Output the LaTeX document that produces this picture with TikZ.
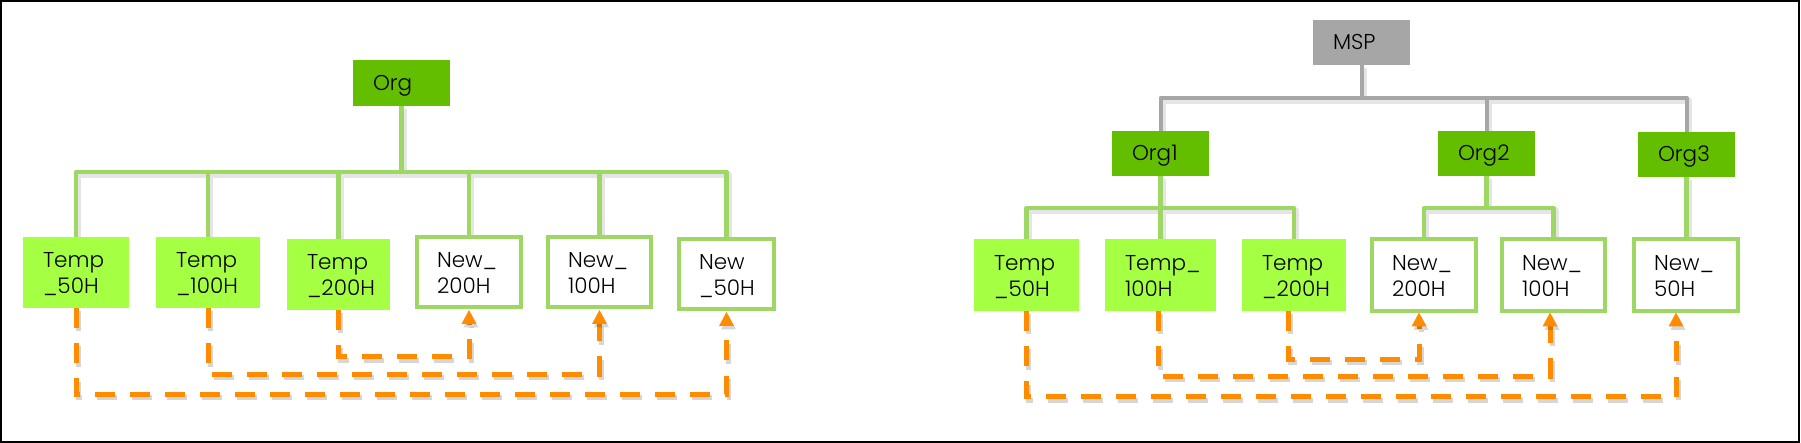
\documentclass[tikz,border=0pt]{standalone}
\usepackage{fontspec}
\setmainfont{Poppins}[UprightFont={* Light}]
\usetikzlibrary{calc,backgrounds}
\definecolor{orgG}{RGB}{99,190,0}
\definecolor{tempG}{RGB}{165,255,66}
\definecolor{lineG}{RGB}{158,215,100}
\definecolor{mspG}{RGB}{166,166,166}
\definecolor{lineGr}{RGB}{166,166,166}
\definecolor{dashO}{RGB}{255,140,0}
% #1 start, #2 level coordinate, #3 arrow tip coordinate
\newcommand\migrpath[3]{%
  \coordinate (tb) at ($(#3)+(0,14)$);
  \draw[odashshadow] (#1) |- (tb |- #2) -- (tb);
  \draw[odash] (#1) |- (tb |- #2) -- (tb);
  \fill[tipshadow] (#3) -- ($(#3)+(-7.5,14)$) -- ($(#3)+(7.5,14)$) -- cycle;
  \fill[dashO] (#3) -- ($(#3)+(-7.5,14)$) -- ($(#3)+(7.5,14)$) -- cycle;}
\newcommand\treepath[2]{\draw[lineshadow] #2; \draw[#1] #2;}
\begin{document}
\begin{tikzpicture}[x=1pt,y=-1pt,
  every node/.style={font=\fontsize{21.5}{26}\selectfont, text=black,
    inner ysep=0pt, inner xsep=20pt, align=left, anchor=north west, outer sep=0pt},
  sz/.style 2 args={minimum width=#1pt, minimum height=#2pt, text width=#1pt-40pt},
  oneline/.style={text height=15pt, text depth=0pt},
  twoline/.style={text height=15pt, text depth=24pt},
  orgbox/.style={oneline, fill=orgG},
  mspbox/.style={oneline, fill=mspG},
  tempbox/.style={twoline, fill=tempG},
  newbox/.style={twoline, draw=lineG, line width=4.5pt, fill=white},
  lineshadow/.style={draw=black, draw opacity=0.1, line width=7pt, line join=round,
     transform canvas={shift={(1.5pt,-3pt)}}},
  gline/.style={draw=lineG, line width=4.5pt, line join=round, line cap=round},
  grline/.style={draw=lineGr, line width=4pt, line join=round, line cap=round},
  odashshadow/.style={draw=black, draw opacity=0.16, line width=5pt,
     dash pattern=on 20pt off 15pt, transform canvas={shift={(2pt,-3.5pt)}}},
  tipshadow/.style={fill=black, fill opacity=0.16, transform canvas={shift={(2pt,-3.5pt)}}},
  odash/.style={draw=dashO, line width=5pt, dash pattern=on 20pt off 15pt}
]
\useasboundingbox (0,0) rectangle (1801,443);

% ---------- left tree ----------
\node[orgbox, sz={97}{46}] (org) at (353,60) {Org};
\node[tempbox, sz={106}{71}] (t50) at (23,237) {Temp\\\_50H};
\node[tempbox, sz={104}{71}] (t100) at (156,237) {Temp\\\_100H};
\node[tempbox, sz={103}{71}] (t200) at (287,239) {Temp\\\_200H};
\node[newbox, sz={104}{70}] (n200) at (417,237) {New\_\\200H};
\node[newbox, sz={103}{70}] (n100) at (548,237) {New\_\\100H};
\node[newbox, sz={95}{70}] (n50) at (679,239) {New\\\_50H};

% ---------- right tree ----------
\node[mspbox, sz={97}{45}] (msp) at (1313,20) {MSP};
\node[orgbox, sz={97}{45}] (o1) at (1112,131) {Org1};
\node[orgbox, sz={97}{45}] (o2) at (1438,131) {Org2};
\node[orgbox, sz={97}{45}] (o3) at (1638,132) {Org3};
\node[tempbox, sz={105}{72}] (rt50) at (974,239) {Temp\\\_50H};
\node[tempbox, sz={111}{72}] (rt100) at (1105,239) {Temp\_\\100H};
\node[tempbox, sz={104}{72}] (rt200) at (1242,239) {Temp\\\_200H};
\node[newbox, sz={104}{72}] (rn200) at (1372,239) {New\_\\200H};
\node[newbox, sz={103}{72}] (rn100) at (1502,239) {New\_\\100H};
\node[newbox, sz={104}{72}] (rn50) at (1634,239) {New\_\\50H};

\coordinate (busL) at (0,172);
\coordinate (busR) at (0,98);
\coordinate (busO1) at (0,208);
\coordinate (busO2) at (0,208);
\coordinate (dL1) at (0,357);
\coordinate (dL2) at (0,374);
\coordinate (dL3) at (0,394);
\coordinate (dR1) at (0,359.5);
\coordinate (dR2) at (0,376);
\coordinate (dR3) at (0,396.5);
\coordinate (s100) at ($(rt100.south)+(-2.5,0)$);
\coordinate (s200) at ($(rt200.south)+(-6,0)$);
% arrow tips
\coordinate (a200) at ($(n200.south)+(0,3)$);
\coordinate (a100) at ($(n100.south)+(0,3)$);
\coordinate (a50) at ($(n50.south)+(0,3)$);
\coordinate (e200) at ($(rn200.south)+(-5,1.5)$);
\coordinate (e100) at ($(rn100.south)+(-3.5,1.5)$);
\coordinate (e50) at ($(rn50.south)+(-10,1.5)$);

\begin{pgfonlayer}{background}
% left tree lines
\treepath{gline}{(t50.north) |- (n50.north |- busL) -- (n50.north)
  (org.south) -- (org.south |- busL)
  (t100.north) -- (t100.north |- busL)
  (t200.north) -- (t200.north |- busL)
  (n200.north) -- (n200.north |- busL)
  (n100.north) -- (n100.north |- busL)}
% right tree lines
\treepath{grline}{(o1.north) |- (o3.north |- busR) -- (o3.north)
  (msp.south) -- (msp.south |- busR)
  (o2.north) -- (o2.north |- busR)}
\treepath{gline}{(rt50.north) |- (rt200.north |- busO1) -- (rt200.north)
  (o1.south) -- (rt100.north)}
\treepath{gline}{(rn200.north) |- (rn100.north |- busO2) -- (rn100.north)
  (o2.south) -- (o2.south |- busO2)}
\treepath{gline}{(o3.south) -- (o3.south |- rn50.north)}
% dashed migrations, left
\migrpath{t200.south}{dL1}{a200}
\migrpath{t100.south}{dL2}{a100}
\migrpath{t50.south}{dL3}{a50}
% dashed migrations, right
\migrpath{s200}{dR1}{e200}
\migrpath{s100}{dR2}{e100}
\migrpath{rt50.south}{dR3}{e50}
\end{pgfonlayer}

\draw[line width=2pt] (1,1) rectangle (1799,442);
\end{tikzpicture}
\end{document}
